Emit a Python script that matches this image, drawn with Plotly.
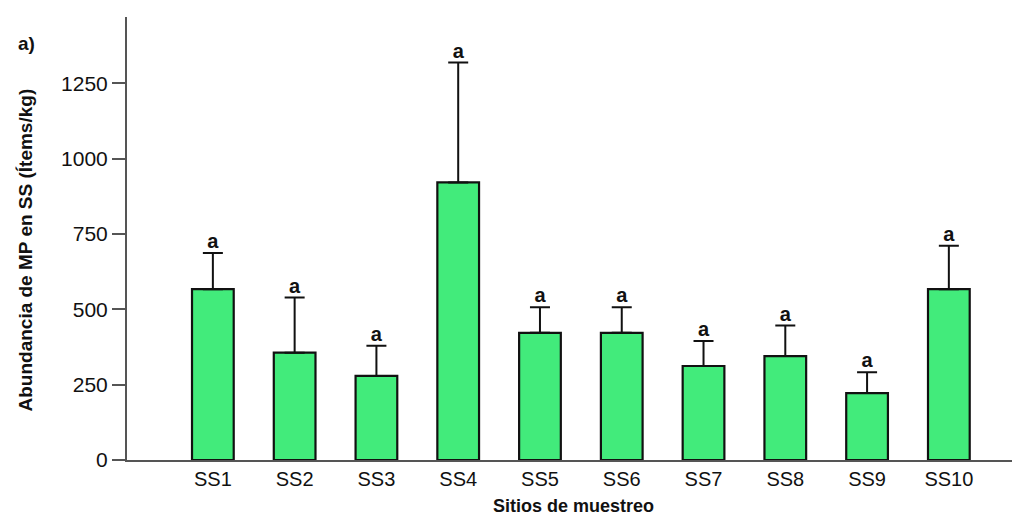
import plotly.graph_objects as go

sites = ["SS1", "SS2", "SS3", "SS4", "SS5", "SS6", "SS7", "SS8", "SS9", "SS10"]
means = [567, 356, 279, 921, 422, 422, 312, 345, 222, 567]
upper = [687, 539, 379, 1319, 507, 507, 395, 446, 291, 711]
letters = ["a"] * 10
y_ticks = [0, 250, 500, 750, 1000, 1250]

err_plus = [u - m for u, m in zip(upper, means)]

FONT = "Liberation Sans, Arial, sans-serif"

fig = go.Figure()
fig.add_trace(go.Bar(
    x=sites, y=means, width=0.51,
    marker=dict(color="#42EB7B", line=dict(color="#111111", width=2.2)),
    error_y=dict(type="data", array=err_plus, arrayminus=[0] * 10, symmetric=False,
                 color="#111111", thickness=2, width=10),
    showlegend=False, hoverinfo="skip",
))
fig.add_trace(go.Scatter(
    x=sites, y=upper, mode="text", text=letters, textposition="top center",
    textfont=dict(family=FONT, size=20, color="#111111", weight="bold"),
    showlegend=False, hoverinfo="skip",
))

fig.update_layout(
    width=1020, height=518,
    margin=dict(l=119, r=8, t=9, b=66),
    paper_bgcolor="white", plot_bgcolor="white",
    font=dict(family=FONT, color="#111111"),
    xaxis=dict(
        range=[-1.05, 9.87], showline=True, linecolor="#555555", linewidth=2,
        ticks="", showgrid=False, zeroline=False,
        tickfont=dict(size=20, color="#111111"),
    ),
    yaxis=dict(
        range=[0, 1470], tickvals=y_ticks, showline=True, linecolor="#555555", linewidth=2,
        ticks="outside", ticklen=13, tickwidth=2, tickcolor="#555555",
        showgrid=False, zeroline=False, tickfont=dict(size=21, color="#111111"),
    ),
    annotations=[
        dict(text="<b>Abundancia de MP en SS (Ítems/kg)</b>", xref="paper", yref="paper",
             x=0, y=0.5, xanchor="center", yanchor="middle", xshift=-102, yshift=-12,
             textangle=-90, showarrow=False, font=dict(size=19, color="#111111")),
        dict(text="<b>Sitios de muestreo</b>", xref="paper", yref="paper",
             x=0.5, y=0, xanchor="center", yanchor="middle", yshift=-46, showarrow=False,
             font=dict(size=18, color="#111111")),
        dict(text="<b>a)</b>", xref="paper", yref="paper",
             x=0, y=1, xanchor="center", yanchor="middle", xshift=-101, yshift=-26,
             showarrow=False, font=dict(size=19, color="#111111")),
    ],
)

fig.write_html("out.html")
